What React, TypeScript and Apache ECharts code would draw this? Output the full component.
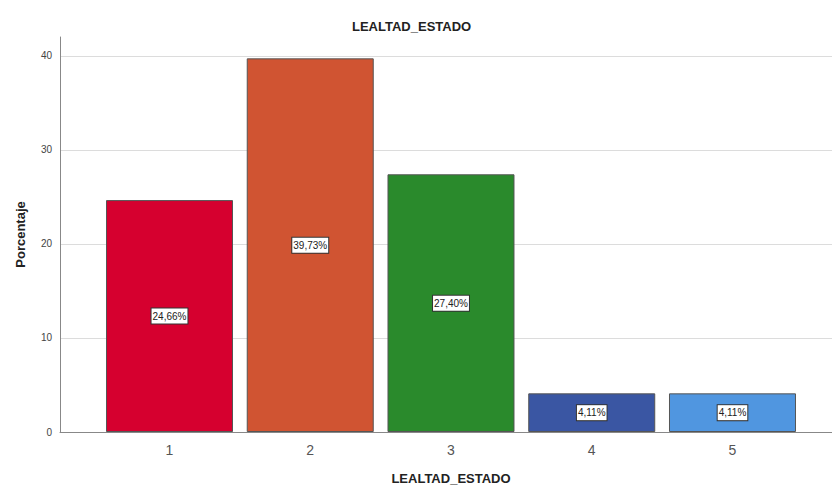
import React, { useEffect, useRef } from "react";
import * as echarts from "echarts";

const categories = [1, 2, 3, 4, 5];
const percentages = [24.66, 39.73, 27.4, 4.11, 4.11];
const barColors = ["#d6002f", "#d05432", "#2a8a2c", "#3a56a3", "#5096e0"];
const yTicks = [0, 10, 20, 30, 40];

const FONT = "'Liberation Sans', Arial, sans-serif";

export default function App() {
  const ref = useRef<HTMLDivElement>(null);
  useEffect(() => {
    if (!ref.current) return;
    const chart = echarts.init(ref.current, null, { renderer: "svg" });
    chart.setOption({
      animation: false,
      backgroundColor: "#ffffff",
      title: {
        text: "LEALTAD_ESTADO",
        left: 347,
        top: 15,
        textStyle: { fontFamily: FONT, fontSize: 13, fontWeight: "bold", color: "#222" },
      },
      grid: { left: 60, right: 0, top: 37, bottom: 53 },
      xAxis: {
        type: "value",
        min: 0.222,
        max: 5.707,
        splitNumber: 5,
        name: "LEALTAD_ESTADO",
        nameLocation: "middle",
        nameGap: 40,
        nameTextStyle: { fontFamily: FONT, fontSize: 13, fontWeight: "bold", color: "#222", padding: [0, 0, 0, 10] },
        axisLine: { show: true, lineStyle: { color: "#888", width: 1 } },
        axisTick: { show: false },
        splitLine: { show: false },
        axisLabel: {
          showMinLabel: false,
          showMaxLabel: false,
          margin: 11,
          fontFamily: FONT,
          fontSize: 14,
          color: "#555",
          formatter: (v: number) => (categories.includes(v) ? String(v) : ""),
        },
      },
      yAxis: {
        type: "value",
        min: yTicks[0],
        max: 42,
        interval: 10,
        name: "Porcentaje",
        nameLocation: "middle",
        nameGap: 33,
        nameTextStyle: { fontFamily: FONT, fontSize: 13, fontWeight: "bold", color: "#222" },
        axisLine: { show: true, lineStyle: { color: "#888", width: 1 } },
        axisTick: { show: false },
        axisLabel: {
          showMaxLabel: false,
          margin: 8,
          fontFamily: FONT,
          fontSize: 10,
          color: "#444",
          formatter: (v: number) => (yTicks.includes(v) ? String(v) : ""),
        },
        splitLine: { show: true, showMaxLine: false, showMinLine: false, lineStyle: { color: "#dcdcdc", width: 1 } },
      },
      series: [
        {
          type: "bar",
          barWidth: 127,
          data: categories.map((c, i) => ({
            value: [c, percentages[i]],
            itemStyle: { color: barColors[i], borderColor: "#555", borderWidth: 1 },
          })),
          label: {
            show: true,
            position: "inside",
            formatter: (p: any) => p.value[1].toFixed(2).replace(".", ",") + "%",
            fontFamily: FONT,
            fontSize: 10,
            color: "#222",
            backgroundColor: "#ffffff",
            borderColor: "#333",
            borderWidth: 1,
            padding: [3, 1, 2, 1],
          },
        },
      ],
    });
    return () => chart.dispose();
  }, []);
  return <div ref={ref} style={{ position: "fixed", left: 0, top: 0, width: 832, height: 490 }} />;
}
